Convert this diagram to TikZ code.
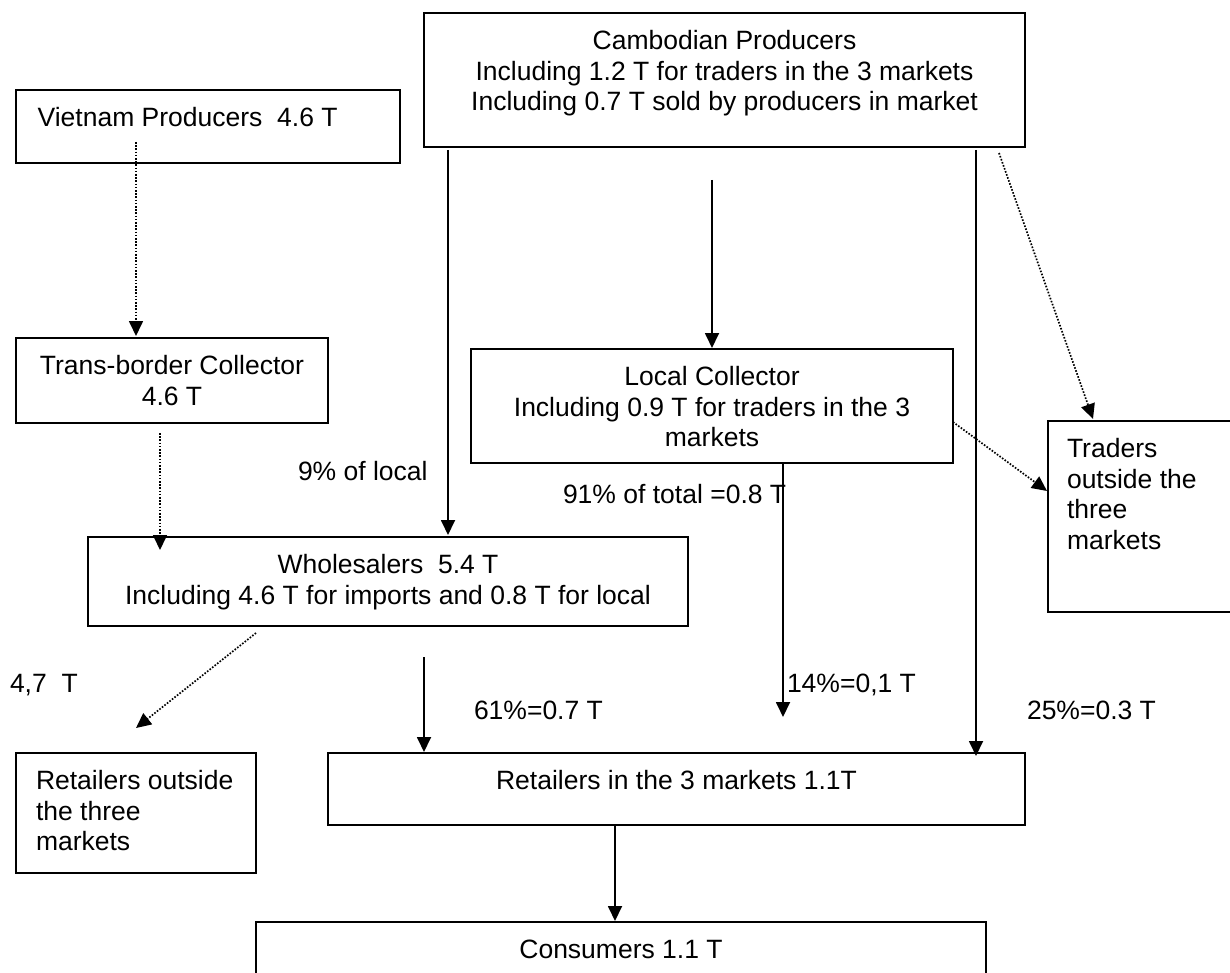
\documentclass[tikz,border=0pt]{standalone}
\usepackage{fontspec}
\setmainfont{Liberation Sans}
\usetikzlibrary{arrows.meta,calc}
\newcommand{\flowfont}{\fontsize{26.5pt}{30.5pt}\selectfont}
\begin{document}
\begin{tikzpicture}[x=1pt,y=-1pt,
  box/.style={draw, rectangle, line width=2pt, inner sep=0pt, outer sep=0pt, anchor=north west},
  txt/.style={inner sep=0pt, outer sep=0pt, font=\flowfont, align=center, anchor=north},
  ltxt/.style={inner sep=0pt, outer sep=0pt, font=\flowfont, align=left, anchor=north west},
  lbl/.style={inner sep=0pt, outer sep=0pt, font=\flowfont, anchor=base west},
  flow/.style={line width=1.8pt, -{Triangle[length=15pt,width=14pt]}},
  dotflow/.style={line width=1.7pt, dash pattern=on 1.6pt off 1.6pt, -{Triangle[length=15pt,width=14pt]}}]
\path[use as bounding box] (0,0) rectangle (1230,973);
\clip (0,0) rectangle (1230,973);

% boxes (the traders box and the consumers box run past the page edge)
\node[box, minimum width=601pt, minimum height=134pt] (camb)    at (424,13)  {};
\node[box, minimum width=384pt, minimum height=73pt]  (viet)    at (16,90)   {};
\node[box, minimum width=312pt, minimum height=85pt]  (trans)   at (16,338)  {};
\node[box, minimum width=482pt, minimum height=114pt] (local)   at (471,349) {};
\node[box, minimum width=240pt, minimum height=191pt] (traders) at (1048,421) {};
\node[box, minimum width=600pt, minimum height=89pt]  (whole)   at (88,537)  {};
\node[box, minimum width=240pt, minimum height=120pt] (retout)  at (16,753)  {};
\node[box, minimum width=697pt, minimum height=72pt]  (retin)   at (328,753) {};
\node[box, minimum width=730pt, minimum height=120pt] (cons)    at (256,922) {};

% box texts
\node[txt] (cambt) at ($(camb.north)+(0,17.5)$)
  {Cambodian Producers\\Including 1.2 T for traders in the 3 markets\\Including 0.7 T sold by producers in market};
\node[ltxt] (viett) at ($(viet.north west)+(21.6,17.5)$) {Vietnam Producers\ \ 4.6 T};
\node[txt] (transt) at ($(trans.north)+(0,17.5)$) {Trans-border Collector\\4.6 T};
\node[txt] (localt) at ($(local.north)+(0,17.5)$)
  {Local Collector\\Including 0.9 T for traders in the 3\\markets};
\node[ltxt] (traderst) at ($(traders.north west)+(19,17.5)$) {Traders\\outside the\\three\\markets};
\node[txt] (wholet) at ($(whole.north)+(0,17.5)$)
  {Wholesalers\ \ 5.4 T\\Including 4.6 T for imports and 0.8 T for local};
\node[ltxt] (retoutt) at ($(retout.north west)+(20,17.5)$) {Retailers outside\\the three\\markets};
\node[txt] (retint) at ($(retin.north)+(0,17.5)$) {Retailers in the 3 markets 1.1T};
\node[txt] (const) at ($(cons.north)+(0,17.5)$) {Consumers 1.1 T};

% flow shares
\node[lbl] (l9)  at (298,480) {9\% of local};
\node[lbl] (l91) at (563,503) {91\% of total =0.8 T};
\node[lbl] (l47) at (10,692)  {4,7\ \ T};
\node[lbl] (l61) at (474,719) {61\%=0.7 T};
\node[lbl] (l14) at (787,692) {14\%=0,1 T};
\node[lbl] (l25) at (1027,719) {25\%=0.3 T};

% connectors
\draw[dotflow] ($(viet.south west)+(120,-21)$) -- ($(trans.north west)+(120,-2)$);
\draw[dotflow] ($(trans.south west)+(144,10)$) -- ($(whole.north west)+(72,13)$);
\draw[flow] ($(camb.south west)+(24,3)$) -- ($(whole.north west)+(360,-2)$);
\draw[flow] ($(camb.south west)+(288,33)$) -- ($(local.north)+(0,-1)$);
\draw[flow] ($(camb.south east)+(-49,3)$) -- ($(retin.north east)+(-49,3)$);
\draw[dotflow] ($(camb.south east)+(-26,6)$) -- ($(traders.north west)+(45,-2)$);
\draw[dotflow] ($(local.north east)+(0,73)$) -- ($(traders.north west)+(-1,70)$);
\coordinate (localend) at ($(local.south west)+(312,254)$);
\draw[flow] ($(local.south west)+(312,0)$) -- (localend);
\draw[dotflow] ($(whole.south west)+(168,7)$) -- ($(retout.north west)+(120,-25)$);
\draw[flow] ($(whole.south west)+(336,31)$) -- ($(retin.north west)+(96,-1)$);
\draw[flow] ($(retin.south west)+(287,0)$) -- ($(cons.north west)+(359,-1)$);
\end{tikzpicture}
\end{document}
